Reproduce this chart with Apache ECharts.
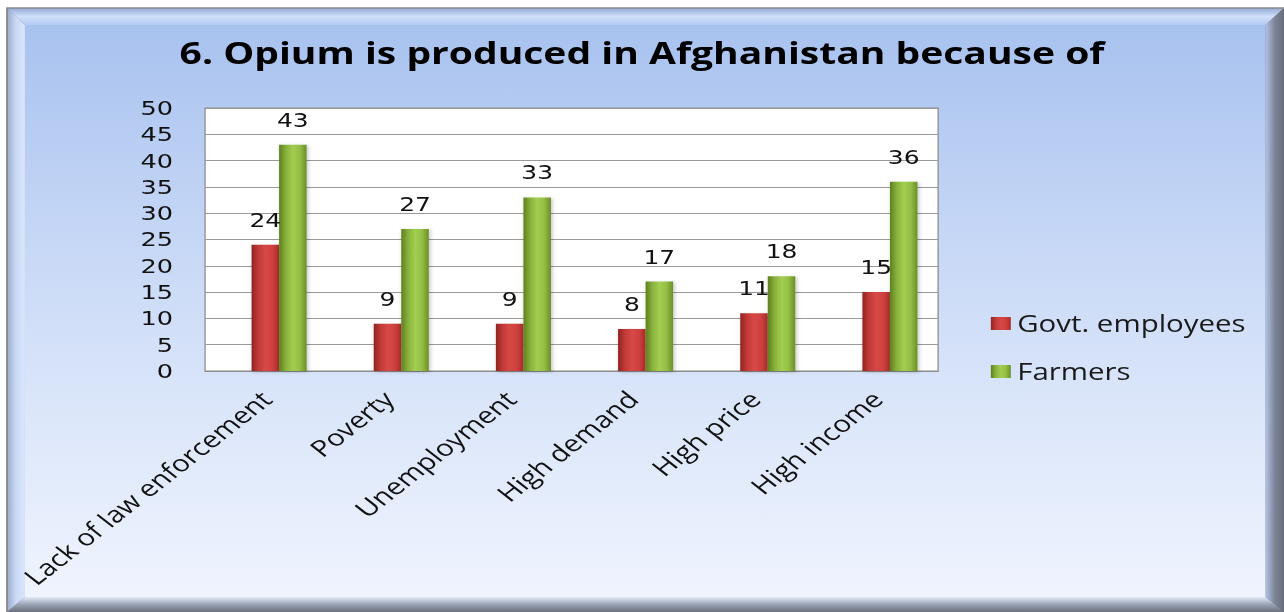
<!DOCTYPE html>
<html>
<head>
<meta charset="utf-8">
<script src="https://cdn.jsdelivr.net/npm/echarts@6/dist/echarts.min.js"></script>
<style>
html,body{margin:0;padding:0;background:#ffffff;overflow:hidden;}
#wrap{width:1284px;height:612px;overflow:hidden;}
#chart{width:1003px;height:612px;transform-origin:0 0;transform:scaleX(1.28016);}
</style>
</head>
<body>
<div id="wrap"><div id="chart"></div></div>
<script>
var titleText = '6. Opium is produced in Afghanistan because of';
var categories = ['Lack of law enforcement', 'Poverty', 'Unemployment', 'High demand', 'High price', 'High income'];
var govtEmployees = [24, 9, 9, 8, 11, 15];
var farmers = [43, 27, 33, 17, 18, 36];
var seriesNames = ['Govt. employees', 'Farmers'];
var yTicks = [0, 5, 10, 15, 20, 25, 30, 35, 40, 45, 50];

var chart = echarts.init(document.getElementById('chart'), null, { renderer: 'svg' });

function hGrad(stops) {
  return new echarts.graphic.LinearGradient(0, 0, 1, 0, stops.map(function (c, i) { return { offset: i / (stops.length - 1), color: c }; }));
}
function vGrad(stops) {
  return new echarts.graphic.LinearGradient(0, 0, 0, 1, stops.map(function (c, i) { return { offset: i / (stops.length - 1), color: c }; }));
}

var redFill = hGrad(['#8f2422', '#c23a38', '#d64845', '#cf413e', '#a82d2b']);
var greenFill = hGrad(['#5f7f1f', '#88b23c', '#a2cd50', '#94c045', '#6c8e26']);

var labelFont = 'DejaVu Sans';
var textFont = '"Open Sans", Lato, sans-serif';

var option = {
  animation: false,
  backgroundColor: 'transparent',
  graphic: [
    { type: 'rect', z: -20, silent: true, shape: { x: 5.5, y: 8, width: 997.5, height: 604 }, style: { fill: '#6e7482' } },
    { type: 'polygon', z: -19, silent: true, shape: { points: [[5.5, 8], [1003, 8], [988.5, 25], [19.5, 25]] },
      style: { fill: vGrad(['#93a9d6', '#cfdffa', '#b4caf2']) } },
    { type: 'polygon', z: -19, silent: true, shape: { points: [[5.5, 8], [19.5, 25], [19.5, 597], [5.5, 612]] },
      style: { fill: hGrad(['#98a9cc', '#c9d9f6', '#dbe6fb']) } },
    { type: 'polygon', z: -19, silent: true, shape: { points: [[1003, 8], [1003, 612], [988.5, 597], [988.5, 25]] },
      style: { fill: hGrad(['#b3c4e6', '#7c8598', '#666d7c']) } },
    { type: 'polygon', z: -19, silent: true, shape: { points: [[5.5, 612], [1003, 612], [988.5, 597], [19.5, 597]] },
      style: { fill: vGrad(['#e4ecfb', '#9aa3b4', '#6b717e']) } },
    { type: 'rect', z: -18, silent: true, shape: { x: 19.5, y: 25, width: 969, height: 572 },
      style: { fill: vGrad(['#a8c2ef', '#c3d5f5', '#dbe6fa', '#eff4fe']) } },
    { type: 'polyline', z: -17, silent: true, shape: { points: [[5.5, 612], [5.5, 8], [1003, 8]] },
      style: { stroke: '#8a8a8a', lineWidth: 1.5, fill: null } }
  ],
  title: {
    text: titleText,
    left: 'center',
    top: 32,
    textStyle: { fontFamily: textFont, fontWeight: 'bold', fontSize: 30.5, color: '#000' }
  },
  legend: {
    orient: 'vertical',
    left: 769,
    top: 307,
    itemWidth: 15.6,
    itemHeight: 13,
    itemGap: 25,
    icon: 'rect',
    data: seriesNames,
    textStyle: { fontFamily: textFont, fontSize: 23, color: '#1a1a1a' }
  },
  grid: [
    { left: 160.2, right: 270.2, top: 108, bottom: 241, show: true, backgroundColor: '#ffffff', borderColor: '#8c8c8c', borderWidth: 1, containLabel: false },
    { left: 170.3, right: 260.1, top: 108, bottom: 241, containLabel: false }
  ],
  xAxis: [
    { type: 'category', gridIndex: 0, data: categories,
      axisLine: { show: true, lineStyle: { color: '#8c8c8c' } },
      axisTick: { show: false },
      axisLabel: { rotate: 45, margin: 24, interval: 0, fontFamily: textFont, fontSize: 23, color: '#111' } },
    { type: 'category', gridIndex: 1, data: categories, show: false }
  ],
  yAxis: [
    { type: 'value', gridIndex: 0, min: 0, max: 50, interval: 5,
      axisLine: { show: false }, axisTick: { show: false },
      splitLine: { show: true, lineStyle: { color: '#9a9a9a', width: 1 } },
      axisLabel: { margin: 25, fontFamily: labelFont, fontSize: 20, color: '#111',
        formatter: function (v) { return yTicks.indexOf(v) >= 0 ? String(v) : ''; } } },
    { type: 'value', gridIndex: 1, min: 0, max: 50, interval: 5, show: false, splitLine: { show: false } }
  ],
  series: [
    { name: seriesNames[0], type: 'bar', xAxisIndex: 1, yAxisIndex: 1, data: govtEmployees,
      barWidth: 21.5, barGap: '0%',
      itemStyle: { color: redFill, shadowColor: 'rgba(0,0,0,0.25)', shadowBlur: 3, shadowOffsetX: 1, shadowOffsetY: 1 },
      label: { show: true, position: 'top', distance: 15, fontFamily: labelFont, fontSize: 19.5, color: '#111' } },
    { name: seriesNames[1], type: 'bar', xAxisIndex: 1, yAxisIndex: 1, data: farmers,
      barWidth: 21.5, barGap: '0%',
      itemStyle: { color: greenFill, shadowColor: 'rgba(0,0,0,0.25)', shadowBlur: 3, shadowOffsetX: 1, shadowOffsetY: 1 },
      label: { show: true, position: 'top', distance: 15, fontFamily: labelFont, fontSize: 19.5, color: '#111' } }
  ]
};
chart.setOption(option);
</script>
</body>
</html>
